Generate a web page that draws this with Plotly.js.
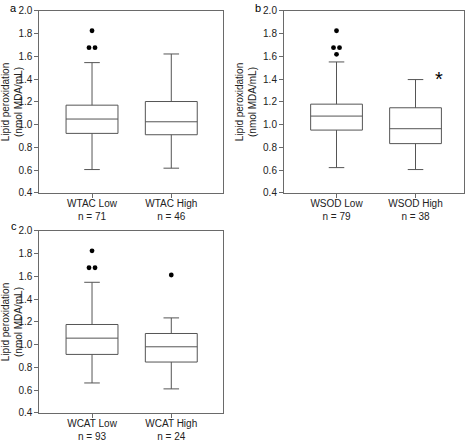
<!DOCTYPE html>
<html>
<head>
<meta charset="utf-8">
<script src="https://cdn.plot.ly/plotly-3.0.1.min.js"></script>
<style>
  html, body { margin: 0; padding: 0; background: #fff; }
  #chart { width: 468px; height: 441px; }
</style>
</head>
<body>
<div id="chart"></div>
<script>
// values (lipid peroxidation, nmol MDA/mL)
var labelsA = ['WTAC Low<br>n = 71', 'WTAC High<br>n = 46'];
var q1A = [0.924, 0.912];
var medA = [1.050, 1.026];
var q3A = [1.172, 1.204];
var loA = [0.606, 0.618];
var hiA = [1.546, 1.622];
var outA = [[1.826, 1.677, 1.677], []];

var labelsB = ['WSOD Low<br>n = 79', 'WSOD High<br>n = 38'];
var q1B = [0.953, 0.834];
var medB = [1.076, 0.965];
var q3B = [1.181, 1.149];
var loB = [0.623, 0.606];
var hiB = [1.552, 1.397];
var outB = [[1.826, 1.677, 1.677, 1.619], []];

var labelsC = ['WCAT Low<br>n = 93', 'WCAT High<br>n = 24'];
var q1C = [0.915, 0.848];
var medC = [1.058, 0.982];
var q3C = [1.178, 1.099];
var loC = [0.664, 0.612];
var hiC = [1.549, 1.236];
var outC = [[1.826, 1.677, 1.677], [1.613]];

var yTicks = [0.4, 0.6, 0.8, 1.0, 1.2, 1.4, 1.6, 1.8, 2.0];

var font = 'Liberation Sans, Arial, sans-serif';
var axisGray = '#6a6a6a';
var boxGray = '#555555';

var traces = [];

function addPanel(xa, ya, q1, med, q3, lo, hi, outs) {
  for (var i = 0; i < q1.length; i++) {
    traces.push({
      type: 'box', xaxis: xa, yaxis: ya,
      x: [i], q1: [q1[i]], median: [med[i]], q3: [q3[i]],
      lowerfence: [lo[i]], upperfence: [hi[i]],
      width: 0.655, whiskerwidth: 0.3,
      boxpoints: false,
      fillcolor: '#ffffff',
      line: { color: boxGray, width: 1 },
      hoverinfo: 'skip', showlegend: false
    });
    // outliers; equal values sit side by side
    var px = [], py = [], counts = {};
    outs[i].forEach(function (v) { counts[v] = (counts[v] || 0) + 1; });
    var seen = {};
    outs[i].forEach(function (v) {
      var n = counts[v], k = seen[v] || 0;
      seen[v] = k + 1;
      px.push(i + (k - (n - 1) / 2) * 0.076);
      py.push(v);
    });
    if (px.length) {
      traces.push({
        type: 'scatter', mode: 'markers', xaxis: xa, yaxis: ya,
        x: px, y: py,
        marker: { color: '#000', size: 4.8 },
        hoverinfo: 'skip', showlegend: false
      });
    }
  }
}

addPanel('x', 'y', q1A, medA, q3A, loA, hiA, outA);
addPanel('x2', 'y2', q1B, medB, q3B, loB, hiB, outB);
addPanel('x3', 'y3', q1C, medC, q3C, loC, hiC, outC);

function xAxis(dom, labels, anchor, range) {
  return {
    domain: dom, anchor: anchor, range: range,
    tickmode: 'array', tickvals: [0, 1], ticktext: labels,
    ticks: 'outside', ticklen: 4, tickcolor: axisGray,
    ticklabelstandoff: -3,
    showline: true, mirror: true, linecolor: axisGray, linewidth: 1,
    showgrid: false, zeroline: false,
    tickfont: { family: font, size: 10, color: '#222' }
  };
}
function yAxis(dom, anchor) {
  return {
    domain: dom, anchor: anchor, range: [0.4, 2.0],
    tickmode: 'array', tickvals: yTicks,
    ticktext: yTicks.map(function (v) { return v.toFixed(1); }),
    ticks: 'outside', ticklen: 4, tickcolor: axisGray,
    showline: true, mirror: true, linecolor: axisGray, linewidth: 1,
    showgrid: false, zeroline: false,
    tickfont: { family: font, size: 10, color: '#222' },
    title: { text: 'Lipid peroxidation<br>(nmol MDA/mL)', standoff: 4,
             font: { family: font, size: 10, color: '#222' } }
  };
}

var topY = [0.5624, 0.9751];
var botY = [0.0635, 0.4762];
var leftX = [0.0840, 0.4771];
var rightX = [0.6068, 0.9915];

function letter(t, px, py) {
  return { text: t, xref: 'paper', yref: 'paper', x: px / 468, y: 1 - py / 441,
           xanchor: 'center', yanchor: 'middle', showarrow: false,
           font: { family: font, size: 11, color: '#000' } };
}

var layout = {
  width: 468, height: 441,
  margin: { l: 0, r: 0, t: 0, b: 0 },
  paper_bgcolor: '#fff', plot_bgcolor: '#fff',
  xaxis: xAxis(leftX, labelsA, 'y', [-0.665, 1.656]),
  yaxis: yAxis(topY, 'x'),
  xaxis2: xAxis(rightX, labelsB, 'y2', [-0.665, 1.614]),
  yaxis2: yAxis(topY, 'x2'),
  xaxis3: xAxis(leftX, labelsC, 'y3', [-0.665, 1.656]),
  yaxis3: yAxis(botY, 'x3'),
  annotations: [
    letter('a', 13.5, 7.5),
    letter('b', 257.5, 7.5),
    letter('c', 13.5, 226),
    { text: '*', xref: 'x2', yref: 'y2', x: 1.30, y: 1.40,
      xanchor: 'center', yanchor: 'middle',
      showarrow: false, font: { family: font, size: 20, color: '#000' } }
  ]
};

Plotly.newPlot('chart', traces, layout, { staticPlot: true });
</script>
</body>
</html>
